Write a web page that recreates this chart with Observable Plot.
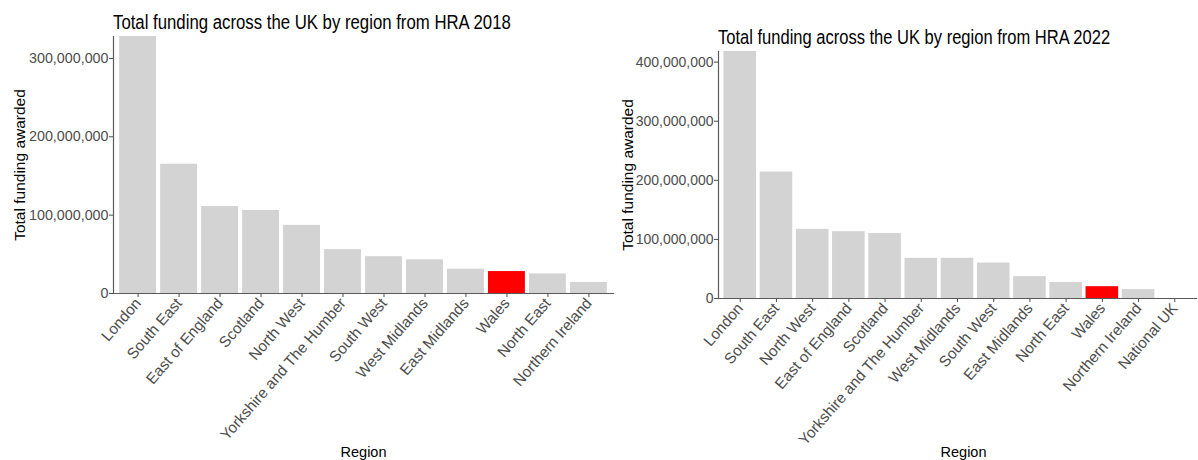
<!DOCTYPE html>
<html>
<head>
<meta charset="utf-8">
<script src="https://cdn.jsdelivr.net/npm/d3@7"></script>
<script src="https://cdn.jsdelivr.net/npm/@observablehq/plot@0.6"></script>
<style>
  html, body { margin: 0; padding: 0; background: #fff; }
  #page { position: relative; width: 1198px; height: 460px; overflow: hidden; }
  .panel { position: absolute; top: 0; }
  .title { position: absolute; font-family: "Liberation Sans", Arial, sans-serif; font-size: 20px; line-height: 20px; color: #000; white-space: nowrap; transform-origin: 0 50%; }
  svg { display: block; }
</style>
</head>
<body>
<div id="page">
  <div class="panel" id="left" style="left:0px;width:620px;"></div>
  <div class="panel" id="right" style="left:600px;width:598px;"></div>
  <div class="title" style="left:113px;top:12px;transform:scaleX(0.838);">Total funding across the UK by region from HRA 2018</div>
  <div class="title" style="left:718px;top:27px;transform:scaleX(0.826);">Total funding across the UK by region from HRA 2022</div>
</div>
<script>
// ---- Data ----
const regions2018 = ["London", "South East", "East of England", "Scotland", "North West", "Yorkshire and The Humber", "South West", "West Midlands", "East Midlands", "Wales", "North East", "Northern Ireland"];
const funding2018 = [328000000, 165000000, 111000000, 106000000, 87000000, 56000000, 47000000, 43000000, 31000000, 28000000, 25000000, 14000000];
const yTicks2018 = [0, 100000000, 200000000, 300000000];

const regions2022 = ["London", "South East", "North West", "East of England", "Scotland", "Yorkshire and The Humber", "West Midlands", "South West", "East Midlands", "North East", "Wales", "Northern Ireland", "National UK"];
const funding2022 = [418000000, 214000000, 117000000, 113000000, 110000000, 68000000, 68000000, 60000000, 37000000, 27000000, 20000000, 15000000, 0];
const yTicks2022 = [0, 100000000, 200000000, 300000000, 400000000];

const highlightRegion = "Wales";
const barColor = "#D3D3D3";
const highlightColor = "#FF0000";
const xTitle = "Region";
const yTitle = "Total funding awarded";

const regular = "'Liberation Sans', Arial, sans-serif";
const tickGray = "#4D4D4D";
const axisGray = "#5A5A5A";

function chart(regions, values, yTicks, o) {
  const data = regions.map((r, i) => ({region: r, value: values[i], color: r === highlightRegion ? highlightColor : barColor}));
  return Plot.plot({
    width: o.width,
    height: 460,
    marginTop: o.marginTop,
    marginBottom: 460 - o.baseline,
    marginLeft: o.marginLeft,
    marginRight: o.marginRight,
    style: {fontFamily: regular, background: "transparent", overflow: "visible"},
    x: {domain: regions, paddingInner: 0.1, paddingOuter: 0.15, round: false},
    y: {domain: [0, d3.max(values)]},
    color: {type: "identity"},
    marks: [
      Plot.barY(data, {x: "region", y: "value", fill: "color"}),
      Plot.frame({anchor: "left", stroke: axisGray, strokeWidth: 1.2}),
      Plot.frame({anchor: "bottom", stroke: axisGray, strokeWidth: 1.2}),
      Plot.axisY({ticks: yTicks, tickFormat: d3.format(","), label: null, tickSize: 4, tickPadding: 1, color: tickGray, fontSize: o.tickFont}),
      Plot.axisY({ticks: [], label: yTitle, labelAnchor: "center", labelArrow: "none", labelOffset: o.yLabelOffset, color: "#000", fontSize: 15.5}),
      Plot.axisX({tickRotate: -49, label: null, tickSize: 4, tickPadding: 3, color: tickGray, fontSize: 15.3}),
      Plot.text([xTitle], {frameAnchor: "bottom", lineAnchor: "middle", dy: o.xTitleDy, dx: o.xTitleDx, fill: "#000", fontSize: 14.5})
    ]
  });
}

document.getElementById("left").append(chart(regions2018, funding2018, yTicks2018, {
  width: 620, marginTop: 36, baseline: 293, marginLeft: 113, marginRight: 7, yLabelOffset: 100, xTitleDy: 159, xTitleDx: 0, tickFont: 14.3
}));
document.getElementById("right").append(chart(regions2022, funding2022, yTicks2022, {
  width: 598, marginTop: 51, baseline: 298, marginLeft: 118, marginRight: 2, yLabelOffset: 97, xTitleDy: 154, xTitleDx: 6, tickFont: 14
}));
</script>
</body>
</html>
